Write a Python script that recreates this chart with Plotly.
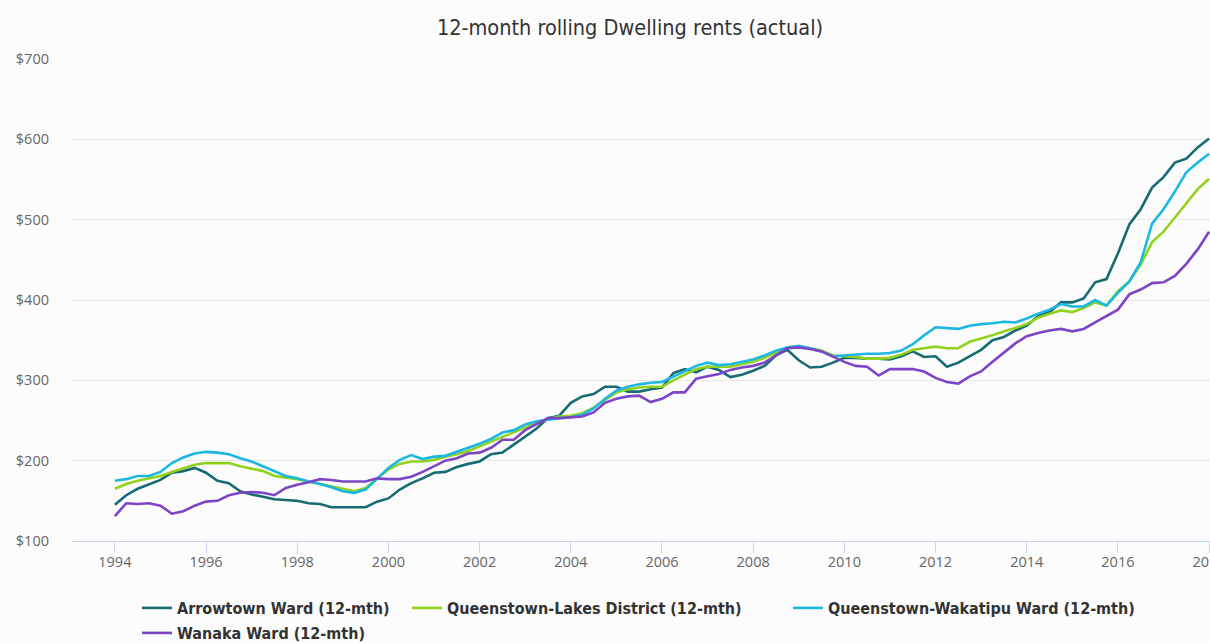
import plotly.graph_objects as go

# ---- data (quarterly, 12-month rolling mean weekly rent, NZD) ----
years = [1994 + q * 0.25 for q in range(97)]

arrowtown = [
    145, 157, 165, 171,  176, 185, 187, 191,  185, 175, 172, 162,
    158, 155, 152, 151,  150, 147, 146, 142,  142, 142, 142, 149,
    153, 164, 172, 178,  185, 186, 192, 196,  199, 208, 210, 220,
    230, 240, 253, 256,  272, 280, 283, 292,  292, 286, 286, 289,
    291, 309, 314, 310,  317, 313, 304, 307,  312, 318, 331, 338,
    325, 316, 317, 322,  328, 328, 327, 327,  326, 330, 336, 329,
    330, 317, 322, 330,  338, 350, 354, 362,  368, 380, 385, 397,
    397, 402, 422, 426,  458, 494, 513, 540,  553, 571, 576, 590,
    601,
]
queenstown_lakes = [
    165, 171, 175, 178,  181, 186, 191, 195,  197, 197, 197, 193,
    190, 187, 181, 179,  177, 174, 171, 168,  165, 162, 166, 177,
    189, 196, 199, 199,  201, 205, 208, 212,  218, 224, 230, 235,
    241, 247, 252, 255,  256, 259, 266, 276,  285, 289, 291, 292,
    292, 300, 307, 314,  317, 317, 317, 320,  323, 328, 335, 341,
    342, 340, 337, 331,  330, 329, 327, 327,  328, 332, 338, 340,
    342, 340, 340, 348,  352, 356, 361, 365,  370, 378, 383, 387,
    385, 390, 397, 393,  411, 423, 444, 472,  485, 503, 521, 538,
    551,
]
wakatipu = [
    175, 177, 181, 181,  186, 197, 204, 209,  211, 210, 208, 203,
    199, 193, 186, 181,  178, 174, 171, 167,  162, 160, 164, 177,
    191, 201, 207, 202,  205, 206, 211, 216,  221, 227, 235, 238,
    245, 249, 251, 253,  254, 257, 265, 277,  287, 292, 295, 297,
    298, 305, 311, 318,  322, 319, 320, 323,  326, 331, 337, 341,
    343, 340, 336, 330,  331, 332, 333, 333,  334, 337, 345, 356,
    366, 365, 364, 368,  370, 371, 373, 372,  377, 383, 388, 395,
    392, 392, 400, 393,  409, 423, 447, 495,  513, 535, 559, 571,
    582,
]
wanaka = [
    131, 147, 146, 147,  144, 134, 137, 144,  149, 150, 157, 160,
    161, 160, 157, 166,  170, 173, 177, 176,  174, 174, 174, 178,
    177, 177, 180, 186,  193, 200, 203, 209,  210, 216, 226, 226,
    238, 246, 253, 253,  254, 255, 260, 272,  277, 280, 281, 273,
    277, 285, 285, 302,  305, 308, 313, 316,  318, 322, 331, 340,
    341, 339, 336, 329,  323, 318, 317, 306,  314, 314, 314, 311,
    303, 298, 296, 305,  311, 323, 334, 346,  355, 359, 362, 364,
    361, 364, 372, 380,  388, 407, 413, 421,  422, 430, 445, 463,
    485,
]

series_names = [
    "Arrowtown Ward (12-mth)",
    "Queenstown-Lakes District (12-mth)",
    "Queenstown-Wakatipu Ward (12-mth)",
    "Wanaka Ward (12-mth)",
]
series_values = [arrowtown, queenstown_lakes, wakatipu, wanaka]
series_colors = ["#176b73", "#92d21c", "#1ab8e2", "#7d45c6"]

x_ticks = list(range(1994, 2019, 2))
y_ticks = [100, 200, 300, 400, 500, 600, 700]

# ---- figure ----
W, H = 1210, 643
ML, MR, MT, MB = 72, 0, 59, 102
PW, PH = W - ML - MR, H - MT - MB

def px_x(px):
    return (px - ML) / PW

def px_y(py):
    return (H - MB - py) / PH

legend_names = ["legend", "legend2", "legend3", "legend4"]
legend_pos = [(137, 608), (407, 608), (788, 608), (137, 633)]

fig = go.Figure()
for name, vals, col, lg in zip(series_names, series_values, series_colors, legend_names):
    fig.add_trace(go.Scatter(
        x=years, y=vals, name=name, mode="lines",
        line=dict(color=col, width=2.6),
        legend=lg,
        hovertemplate="%{x}<br>$%{y}<extra>" + name + "</extra>",
    ))

COND = "DejaVu Sans Condensed, Roboto, sans-serif"
legend_font = dict(family=COND, size=16, color="#333333", weight="bold")
legend_layout = {}
for lg, (lx, ly) in zip(legend_names, legend_pos):
    legend_layout[lg] = dict(
        x=px_x(lx), y=px_y(ly), xanchor="left", yanchor="middle",
        orientation="h", bgcolor="rgba(0,0,0,0)", font=legend_font,
        itemwidth=30,
    )

fig.update_layout(
    width=W, height=H,
    margin=dict(l=ML, r=MR, t=MT, b=MB, autoexpand=False),
    paper_bgcolor="#fcfcfc", plot_bgcolor="#fcfcfc",
    title=dict(
        text="12-month rolling Dwelling rents (actual)",
        x=630 / W, xref="container", xanchor="center",
        y=1 - 27 / H, yref="container", yanchor="middle",
        font=dict(family=COND, size=21.5, color="#333333"),
    ),
    showlegend=True,
    **legend_layout,
)

fig.update_xaxes(
    range=[1993.06, 2018.02],
    tickvals=x_ticks, ticktext=[str(t) for t in x_ticks],
    showgrid=False, zeroline=False, automargin=False,
    showline=True, linecolor="#ccd6eb", linewidth=1,
    ticks="outside", ticklen=11, tickcolor="#ccd6eb", tickwidth=1,
    ticklabelstandoff=-3, ticklabeloverflow="allow",
    tickfont=dict(family="Open Sans, sans-serif", size=14.5, color="#666666"),
)
fig.update_yaxes(
    range=[100, 700],
    tickvals=y_ticks, ticktext=["$" + str(v) for v in y_ticks],
    showgrid=True, gridcolor="#e6e6e6", gridwidth=1,
    zeroline=False, showline=False, ticks="", automargin=False,
    ticklabelstandoff=22,
    tickfont=dict(family="Open Sans, sans-serif", size=14.5, color="#666666"),
)

fig.write_html(
    "out.html",
    config={"displayModeBar": False},
    post_script="document.body.style.margin='0px';",
)
